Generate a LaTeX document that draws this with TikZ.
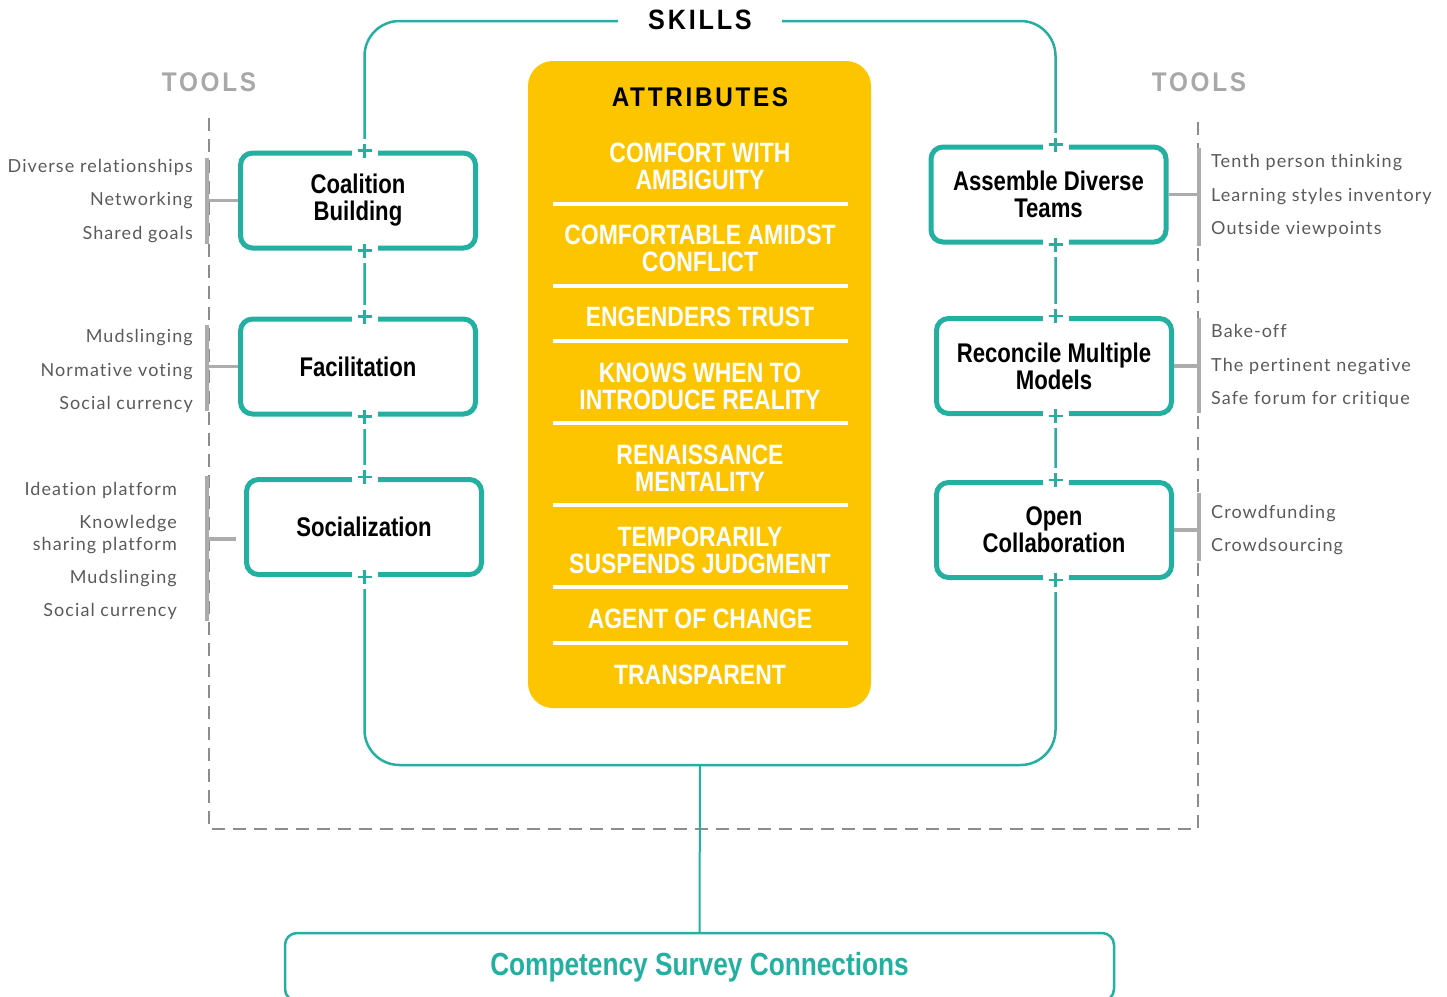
\documentclass[tikz,border=0pt]{standalone}
\usepackage{fontspec}
\setmainfont{Liberation Sans}
\newfontfamily\condfont[FakeStretch=0.82]{Liberation Sans}
\newfontfamily\trackfont[FakeStretch=0.9,LetterSpace=10]{Liberation Sans}
\newfontfamily\toolfont[LetterSpace=6,Ligatures=NoCommon]{Lato}
\usetikzlibrary{positioning, calc}

\definecolor{skillteal}{RGB}{36,176,160}
\definecolor{attryellow}{RGB}{253,196,0}
\definecolor{toolgray}{RGB}{90,90,90}
\definecolor{bargray}{RGB}{172,172,172}
\definecolor{headgray}{RGB}{168,168,168}
\definecolor{framegray}{RGB}{140,140,140}

\begin{document}
\begin{tikzpicture}[x=1pt, y=-1pt,
    skillbox/.style={draw=skillteal, line width=5pt, rounded corners=12pt, fill=white,
      minimum width=235pt, minimum height=95pt, inner sep=0pt, align=center,
      font=\condfont\bfseries\fontsize{27}{27}\selectfont},
    attr/.style={text=white, align=center, inner sep=0pt,
      font=\condfont\bfseries\fontsize{28}{27}\selectfont},
    sep/.style={white, line width=4pt},
    toolL/.style={anchor=base east, text=toolgray, align=right, inner sep=0pt,
      font=\toolfont\fontsize{18}{22}\selectfont},
    toolR/.style={toolL, anchor=base west, align=left},
    bar/.style={bargray, line width=3.5pt},
    heading/.style={font=\trackfont\bfseries\fontsize{27}{27}\selectfont},
    plus/.pic={\fill[white] (-13,-12) rectangle (13,12);
      \draw[skillteal, line width=2.5pt] (-7,0) -- (7,0) (0,-7) -- (0,7);}]
  \useasboundingbox (0,0) rectangle (1447,996);
  \clip (0,0) rectangle (1447,996);

  % Tools frame
  \draw[framegray, line width=1.3pt, dash pattern=on 13pt off 8pt]
    (209,118) -- (209,829) -- (1198,829) -- (1198,118);
  \node[heading, text=headgray] (toolsL) at (209,82) {TOOLS};
  \node[heading, text=headgray] (toolsR) at (1199,82) {TOOLS};

  % Skills frame
  \coordinate (lineL) at (364.5,0);
  \coordinate (lineR) at (1055.5,0);
  \coordinate (barL) at (207,0);
  \coordinate (barR) at (1199,0);
  \draw[skillteal, line width=2.5pt, rounded corners=35pt]
    (618,21) -- (364.5,21) -- (364.5,765) -- (1055.5,765) -- (1055.5,21) -- (782,21);
  \node[heading, font=\trackfont\bfseries\fontsize{28}{28}\selectfont] (skills) at (700,20) {SKILLS};

  % Attributes
  \node[fill=attryellow, rounded corners=25pt, minimum width=343pt, minimum height=647pt] (attrbox) at (699.5,384.5) {};
  \node[heading] (attrtitle) at (700,97) {ATTRIBUTES};
  \node[attr] (a1) at (700,166.5) {COMFORT WITH\\AMBIGUITY};
  \node[attr] (a2) at (700,248.5) {COMFORTABLE AMIDST\\CONFLICT};
  \node[attr] (a3) at (700,317) {ENGENDERS TRUST};
  \node[attr] (a4) at (700,386.5) {KNOWS WHEN TO\\INTRODUCE REALITY};
  \node[attr] (a5) at (700,468.5) {RENAISSANCE\\MENTALITY};
  \node[attr] (a6) at (700,550.5) {TEMPORARILY\\SUSPENDS JUDGMENT};
  \node[attr] (a7) at (700,619) {AGENT OF CHANGE};
  \node[attr] (a8) at (700,675) {TRANSPARENT};
  \foreach \y in {204,286,341,423,505,587,643}
    \draw[sep] (553,\y) -- (848,\y);

  % Skills
  \node[skillbox] (cb) at (358,200.5) {Coalition\\Building};
  \node[skillbox] (fa) at (358,366.5) {Facilitation};
  \node[skillbox] (so) at (364,527) {Socialization};
  \node[skillbox] (ad) at (1048.5,194.5) {Assemble Diverse\\Teams};
  \node[skillbox] (rm) at (1054,366) {Reconcile Multiple\\Models};
  \node[skillbox] (oc) at (1054,530) {Open\\Collaboration};

  % Plus marks
  \pic at (cb.north -| lineL) {plus}; \pic at (cb.south -| lineL) {plus};
  \pic at (fa.north -| lineL) {plus}; \pic at (fa.south -| lineL) {plus};
  \pic at (so.north -| lineL) {plus}; \pic at (so.south -| lineL) {plus};
  \pic at (ad.north -| lineR) {plus}; \pic at (ad.south -| lineR) {plus};
  \pic at (rm.north -| lineR) {plus}; \pic at (rm.south -| lineR) {plus};
  \pic at (oc.north -| lineR) {plus}; \pic at (oc.south -| lineR) {plus};

  % Tool brackets
  \draw[bar] (207,158) -- (207,244);
  \draw[bar] (207,325) -- (207,411);
  \draw[bar] (207,476) -- (207,621);
  \draw[bar] (1199,148) -- (1199,246);
  \draw[bar] (1199,318) -- (1199,413);
  \draw[bar] (1199,493) -- (1199,561);
  \draw[bar] (cb.west -| barL) -- (cb.west);
  \draw[bar] (fa.west -| barL) -- (fa.west);
  \draw[bar] ($(so.west -| barL)+(0,12)$) -- ($(so.west)+(-8,12)$);
  \draw[bar] (ad.east) -- (ad.east -| barR);
  \draw[bar] (rm.east) -- (rm.east -| barR);
  \draw[bar] (oc.east) -- (oc.east -| barR);

  % Tools
  \node[toolL] (cb1) at (193,172) {Diverse relationships};
  \node[toolL] (cb2) at (193,205) {Networking};
  \node[toolL] (cb3) at (193,239) {Shared goals};
  \node[toolL] (fa1) at (193,342) {Mudslinging};
  \node[toolL] (fa2) at (193,376) {Normative voting};
  \node[toolL] (fa3) at (193,409) {Social currency};
  \node[toolL] (so1) at (177,495) {Ideation platform};
  \node[toolL] (so2) at (177,550) {Knowledge\\sharing platform};
  \node[toolL] (so3) at (177,583) {Mudslinging};
  \node[toolL] (so4) at (177,616) {Social currency};
  \node[toolR] (ad1) at (1211,167) {Tenth person thinking};
  \node[toolR] (ad2) at (1211,201) {Learning styles inventory};
  \node[toolR] (ad3) at (1211,234) {Outside viewpoints};
  \node[toolR] (rm1) at (1211,337) {Bake-off};
  \node[toolR] (rm2) at (1211,371) {The pertinent negative};
  \node[toolR] (rm3) at (1211,404) {Safe forum for critique};
  \node[toolR] (oc1) at (1211,518) {Crowdfunding};
  \node[toolR] (oc2) at (1211,551) {Crowdsourcing};

  % Survey
  \coordinate (skillsbase) at (700,765);
  \node[draw=skillteal, line width=2.5pt, rounded corners=12pt, minimum width=829pt, minimum height=68pt,
    text=skillteal, font=\condfont\bfseries\fontsize{32}{32}\selectfont] (survey) at (699.5,967) {Competency Survey Connections};
  \draw[skillteal, line width=2pt] (skillsbase) -- (survey.north);
\end{tikzpicture}
\end{document}
